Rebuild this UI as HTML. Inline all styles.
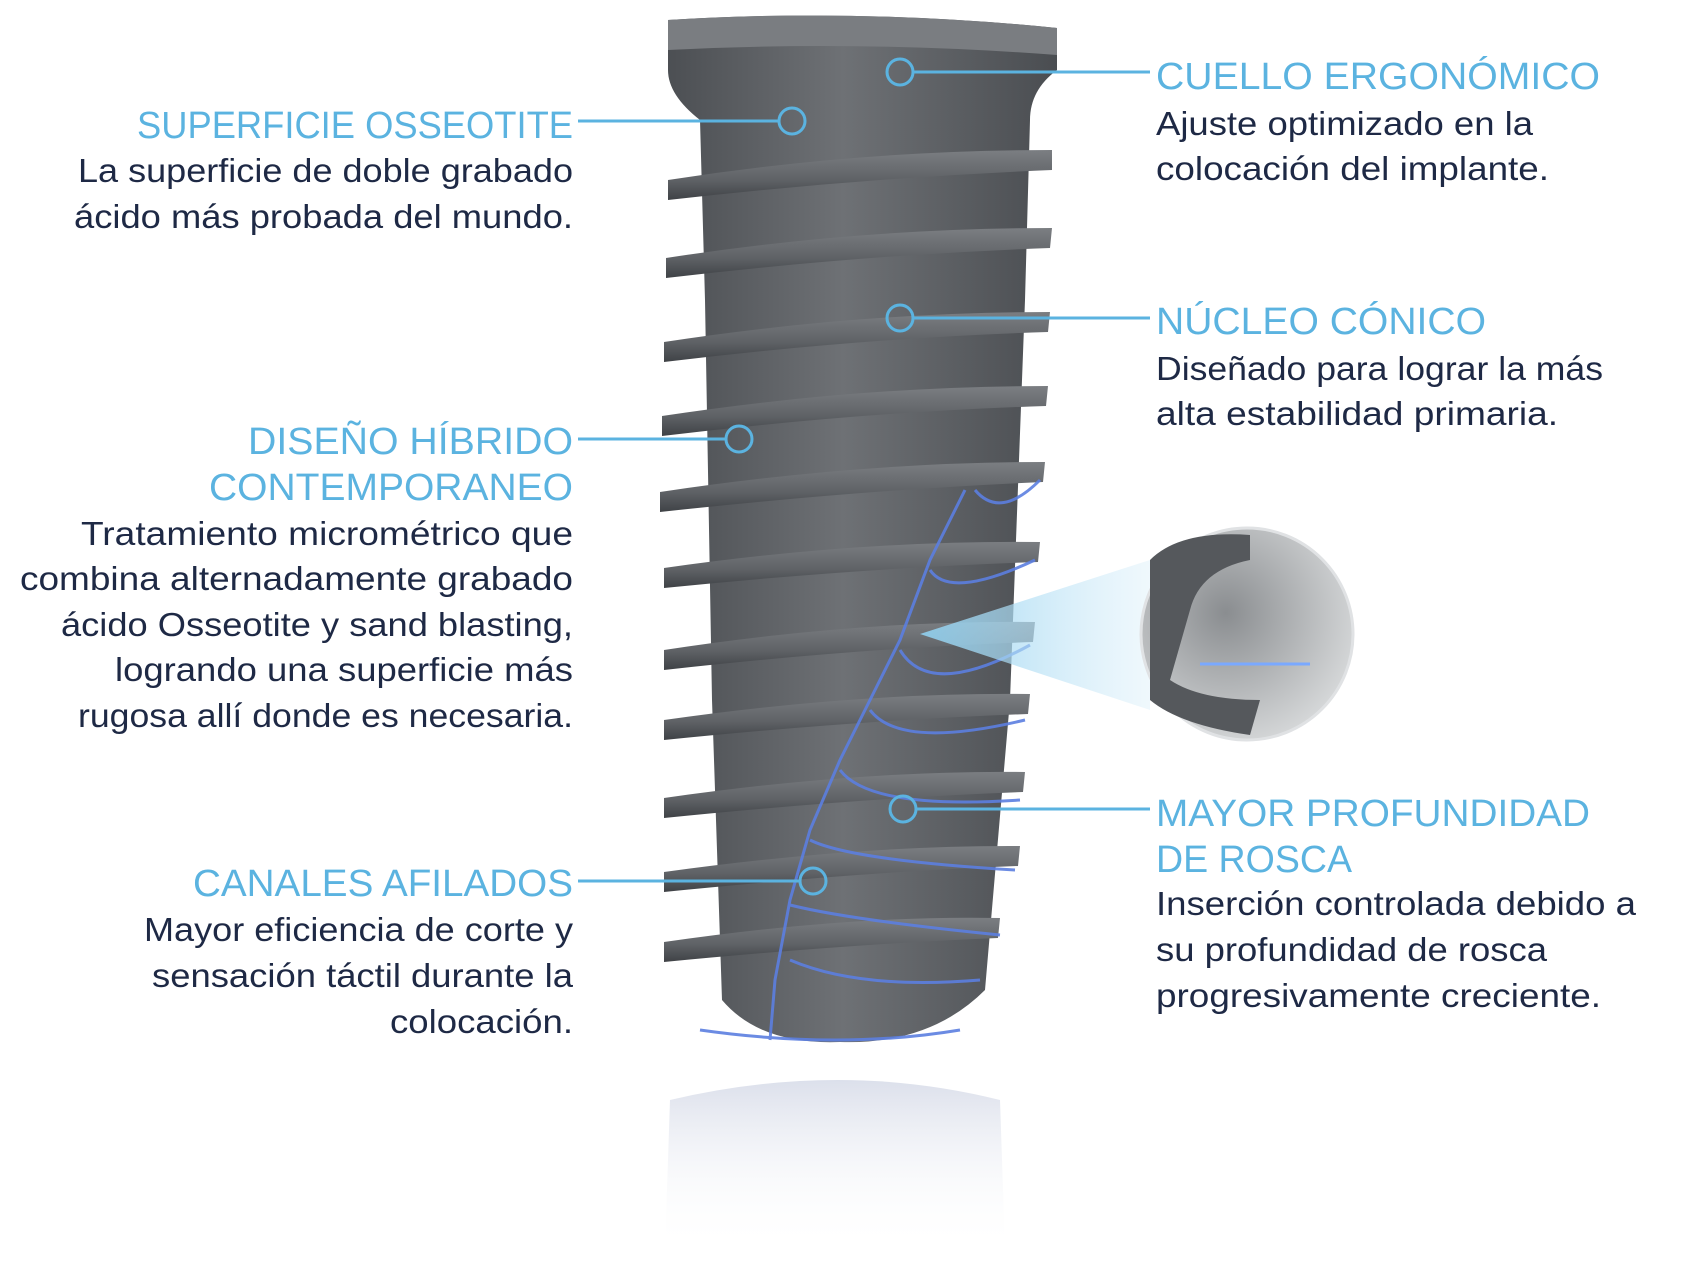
<!DOCTYPE html>
<html><head><meta charset="utf-8"><style>
html,body{margin:0;padding:0;background:#fff;width:1695px;height:1280px;overflow:hidden}
svg{display:block}
.t{font-family:"Liberation Sans",sans-serif;fill:#5bb3e0;font-size:38px}
.b{font-family:"Liberation Sans",sans-serif;fill:#1e2945;font-size:33px}
</style></head><body>
<svg width="1695" height="1280" viewBox="0 0 1695 1280">
<defs>
<linearGradient id="g" x1="0" x2="1" y1="0" y2="0">
<stop offset="0" stop-color="#4c4f53"/><stop offset="0.45" stop-color="#6e7175"/><stop offset="1" stop-color="#4a4d51"/>
</linearGradient>
<linearGradient id="th" x1="0" x2="0" y1="0" y2="1">
<stop offset="0" stop-color="#7b7e82"/><stop offset="0.6" stop-color="#5f6266"/><stop offset="1" stop-color="#3f4246"/>
</linearGradient>
<linearGradient id="r" x1="0" x2="0" y1="0" y2="1">
<stop offset="0" stop-color="#d3d8e6" stop-opacity="0.8"/><stop offset="1" stop-color="#fff" stop-opacity="0"/>
</linearGradient>
<linearGradient id="cone" x1="0" x2="1"><stop offset="0" stop-color="#8fd0f0" stop-opacity="0.9"/><stop offset="1" stop-color="#d8eef9" stop-opacity="0.4"/></linearGradient>
<radialGradient id="mag" cx="0.4" cy="0.4" r="0.7"><stop offset="0" stop-color="#8a8d90"/><stop offset="1" stop-color="#dcdedf"/></radialGradient>
</defs>
<path d="M670 1100 Q840 1060 1000 1100 L1005 1250 L665 1250 Z" fill="url(#r)"/>
<path d="M668 20 Q860 8 1057 28 L1057 70 Q1030 90 1030 120 L1025 300 L1010 700 L985 990 Q930 1045 840 1042 Q760 1045 722 1000 L712 700 L705 300 L700 120 Q668 95 668 70 Z" fill="url(#g)"/>
<path d="M668 20 Q860 8 1057 28 L1057 55 Q860 40 668 50 Z" fill="#7a7d81"/>
<g fill="url(#th)">
<path d="M668 180 Q860 150 1052 150 L1052 170 Q860 178 668 200 Z"/>
<path d="M666 258 Q860 228 1052 228 L1050 248 Q860 255 666 278 Z"/>
<path d="M664 342 Q860 312 1050 312 L1048 332 Q860 338 664 362 Z"/>
<path d="M662 416 Q860 386 1048 386 L1046 406 Q860 412 662 436 Z"/>
<path d="M660 492 Q860 462 1045 462 L1043 482 Q860 490 660 512 Z"/>
<path d="M664 568 Q860 540 1040 542 L1038 562 Q860 568 664 588 Z"/>
<path d="M664 650 Q860 620 1035 622 L1033 642 Q860 648 664 670 Z"/>
<path d="M664 720 Q860 692 1030 694 L1028 714 Q860 720 664 740 Z"/>
<path d="M664 798 Q860 770 1025 772 L1023 792 Q860 798 664 818 Z"/>
<path d="M664 872 Q860 845 1020 846 L1018 866 Q860 872 664 892 Z"/>
<path d="M664 942 Q850 915 1000 918 L998 938 Q850 944 664 962 Z"/>
</g>
<g fill="none" stroke="#5c7fe0" stroke-width="3" opacity="0.9">
<path d="M965 490 L930 560 L900 640 L870 700 L840 760 L810 830 L790 900 L775 980 L770 1040"/>
<path d="M975 490 Q1000 520 1040 480"/>
<path d="M930 570 Q950 600 1035 560"/>
<path d="M900 650 Q930 700 1030 645"/>
<path d="M870 710 Q900 750 1025 720"/>
<path d="M840 770 Q870 810 1020 800"/>
<path d="M810 840 Q850 860 1015 870"/>
<path d="M790 905 Q850 920 1000 935"/>
<path d="M790 960 Q860 990 980 980"/>
<path d="M700 1030 Q840 1050 960 1030"/>
</g>
<path d="M920 634 L1150 560 L1150 710 Z" fill="url(#cone)"/>
<circle cx="1247" cy="634" r="106" fill="url(#mag)" stroke="#e0e2e4" stroke-width="3"/>
<path d="M1150 560 Q1180 530 1250 535 L1250 560 Q1200 570 1190 610 L1170 680 Q1200 700 1260 700 L1250 735 Q1180 725 1150 700 Z" fill="#55585c"/>
<line x1="1200" y1="664" x2="1310" y2="664" stroke="#7aa9ff" stroke-width="3"/>
<g stroke="#5bb3e0" stroke-width="3" fill="none">
<line x1="913" y1="72" x2="1150" y2="72"/><circle cx="900" cy="72" r="13"/>
<line x1="578" y1="121" x2="779" y2="121"/><circle cx="792" cy="121" r="13"/>
<line x1="913" y1="318" x2="1150" y2="318"/><circle cx="900" cy="318" r="13"/>
<line x1="578" y1="439" x2="726" y2="439"/><circle cx="739" cy="439" r="13"/>
<line x1="916" y1="809" x2="1150" y2="809"/><circle cx="903" cy="809" r="13"/>
<line x1="578" y1="881" x2="800" y2="881"/><circle cx="813" cy="881" r="13"/>
</g>
<g text-anchor="end">
<text class="t" x="573" y="138" textLength="436" lengthAdjust="spacingAndGlyphs">SUPERFICIE OSSEOTITE</text>
<text class="b" x="573" y="182" textLength="495" lengthAdjust="spacingAndGlyphs">La superficie de doble grabado</text>
<text class="b" x="573" y="228" textLength="499" lengthAdjust="spacingAndGlyphs">ácido más probada del mundo.</text>
<text class="t" x="573" y="454" textLength="325" lengthAdjust="spacingAndGlyphs">DISEÑO HÍBRIDO</text>
<text class="t" x="573" y="500" textLength="364" lengthAdjust="spacingAndGlyphs">CONTEMPORANEO</text>
<text class="b" x="573" y="545" textLength="492" lengthAdjust="spacingAndGlyphs">Tratamiento micrométrico que</text>
<text class="b" x="573" y="590" textLength="553" lengthAdjust="spacingAndGlyphs">combina alternadamente grabado</text>
<text class="b" x="573" y="636" textLength="512" lengthAdjust="spacingAndGlyphs">ácido Osseotite y sand blasting,</text>
<text class="b" x="573" y="681" textLength="458" lengthAdjust="spacingAndGlyphs">logrando una superficie más</text>
<text class="b" x="573" y="727" textLength="495" lengthAdjust="spacingAndGlyphs">rugosa allí donde es necesaria.</text>
<text class="t" x="573" y="896" textLength="380" lengthAdjust="spacingAndGlyphs">CANALES AFILADOS</text>
<text class="b" x="573" y="941" textLength="429" lengthAdjust="spacingAndGlyphs">Mayor eficiencia de corte y</text>
<text class="b" x="573" y="987" textLength="421" lengthAdjust="spacingAndGlyphs">sensación táctil durante la</text>
<text class="b" x="573" y="1033" textLength="183" lengthAdjust="spacingAndGlyphs">colocación.</text>
</g>
<text class="t" x="1156" y="89" textLength="444" lengthAdjust="spacingAndGlyphs">CUELLO ERGONÓMICO</text>
<text class="b" x="1156" y="135" textLength="377" lengthAdjust="spacingAndGlyphs">Ajuste optimizado en la</text>
<text class="b" x="1156" y="180" textLength="393" lengthAdjust="spacingAndGlyphs">colocación del implante.</text>
<text class="t" x="1156" y="334" textLength="330" lengthAdjust="spacingAndGlyphs">NÚCLEO CÓNICO</text>
<text class="b" x="1156" y="380" textLength="447" lengthAdjust="spacingAndGlyphs">Diseñado para lograr la más</text>
<text class="b" x="1156" y="425" textLength="402" lengthAdjust="spacingAndGlyphs">alta estabilidad primaria.</text>
<text class="t" x="1156" y="826" textLength="434" lengthAdjust="spacingAndGlyphs">MAYOR PROFUNDIDAD</text>
<text class="t" x="1156" y="872" textLength="196" lengthAdjust="spacingAndGlyphs">DE ROSCA</text>
<text class="b" x="1156" y="915" textLength="480" lengthAdjust="spacingAndGlyphs">Inserción controlada debido a</text>
<text class="b" x="1156" y="961" textLength="391" lengthAdjust="spacingAndGlyphs">su profundidad de rosca</text>
<text class="b" x="1156" y="1007" textLength="445" lengthAdjust="spacingAndGlyphs">progresivamente creciente.</text>
</svg>
</body></html>
